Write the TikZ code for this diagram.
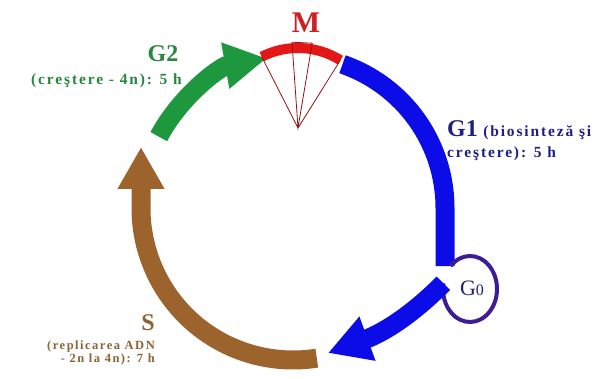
\documentclass[tikz,border=0pt]{standalone}
\usepackage{fontspec}
\setmainfont{Liberation Serif}
\newfontfamily\spaced[LetterSpace=12]{Liberation Serif}
\usepackage{tikz}
\usetikzlibrary{arrows.meta,positioning,calc}
\definecolor{mred}{RGB}{228,22,22}
\definecolor{mtext}{RGB}{205,32,32}
\definecolor{fanc}{RGB}{150,20,20}
\definecolor{gblue}{RGB}{12,12,232}
\definecolor{sbrown}{RGB}{156,100,44}
\definecolor{stext}{RGB}{140,98,55}
\definecolor{ggreen}{RGB}{30,152,62}
\definecolor{g2text}{RGB}{38,135,62}
\definecolor{g1text}{RGB}{32,32,130}
\definecolor{loopc}{RGB}{62,28,150}
\definecolor{g0text}{RGB}{35,30,110}

\begin{document}
\begin{tikzpicture}[x=1pt, y=1pt,
  phasearc/.style={line width=19pt},
  headarrow/.style={-{Triangle[length=42pt, width=44pt]}},
  big/.style={font=\bfseries\fontsize{24}{28}\selectfont, inner sep=0pt},
  info/.style={font=\spaced\bfseries\fontsize{15.5}{21}\selectfont, inner sep=0pt}]
\useasboundingbox (0,0) rectangle (616,378);
\def\rad{152}
\coordinate (c) at (293,170);
\coordinate (apex) at (298,250);
\coordinate (mleft) at ($(apex)+(117:80)$);
\coordinate (mright) at ($(apex)+(58:80)$);
\coordinate (stip) at (141,231);
\coordinate (btip) at (328,25);
\coordinate (loopmid) at (470,89);
\coordinate (g1end) at ($(loopmid)+(136:27 and 33)$);
\coordinate (g0end) at ($(loopmid)+(170:27 and 33)$);

\draw[phasearc, ggreen, headarrow] (c) ++(152:\rad) arc[start angle=152, end angle=100, radius=\rad];
\draw[phasearc, gblue] (c) ++(71:\rad) arc[start angle=71, end angle=0, radius=\rad] -- (g1end -| 445,0);
\draw[line width=4pt, loopc] (g1end) arc[start angle=136, end angle=-190, x radius=27, y radius=33];
\draw[phasearc, gblue, headarrow] (g0end) to[out=-135, in=20] (btip);
\draw[phasearc, sbrown, headarrow] (c) ++(-81:\rad) arc[start angle=-81, end angle=-180, radius=\rad] -- (stip);
\draw[line width=10pt, mred] (mleft) arc[start angle=117, end angle=58, radius=80];
\draw[line width=0.8pt, fanc] (apex) -- (mleft) (apex) -- (mright) (apex) -- ($(apex)+(94:86)$) -- ($(apex)+(80.5:86)$) -- cycle;

\node[big, font=\bfseries\fontsize{30}{32}\selectfont, text=mtext] (mlab) at (306,355) {M};
\node[big, text=g2text, anchor=base] (g2) at (163,316) {G2};
\node[info, text=g2text, anchor=base east] (g2info) at (182,293) {(creştere - 4n): 5 h};
\node[big, text=g1text, anchor=base west] (g1) at (447,241) {G1};
\node[info, text=g1text, anchor=base west] (g1info) at ([xshift=5pt]g1.base east) {(biosinteză şi};
\node[info, text=g1text, anchor=base west] (g1more) at ([yshift=-21pt]g1.base west) {creştere): 5 h};
\node[big, text=stext, anchor=base east] (s) at (155,48) {S};
\node[info, font=\spaced\bfseries\fontsize{12.5}{13}\selectfont, text=stext, align=right, anchor=north east] (sinfo) at (155,37) {(replicarea ADN\\- 2n la 4n): 7 h};
\node[font=\fontsize{22}{24}\selectfont, text=g0text, anchor=base, inner sep=0pt] (g0) at (472,83) {G{\fontsize{16}{16}\selectfont 0}};
\end{tikzpicture}
\end{document}
